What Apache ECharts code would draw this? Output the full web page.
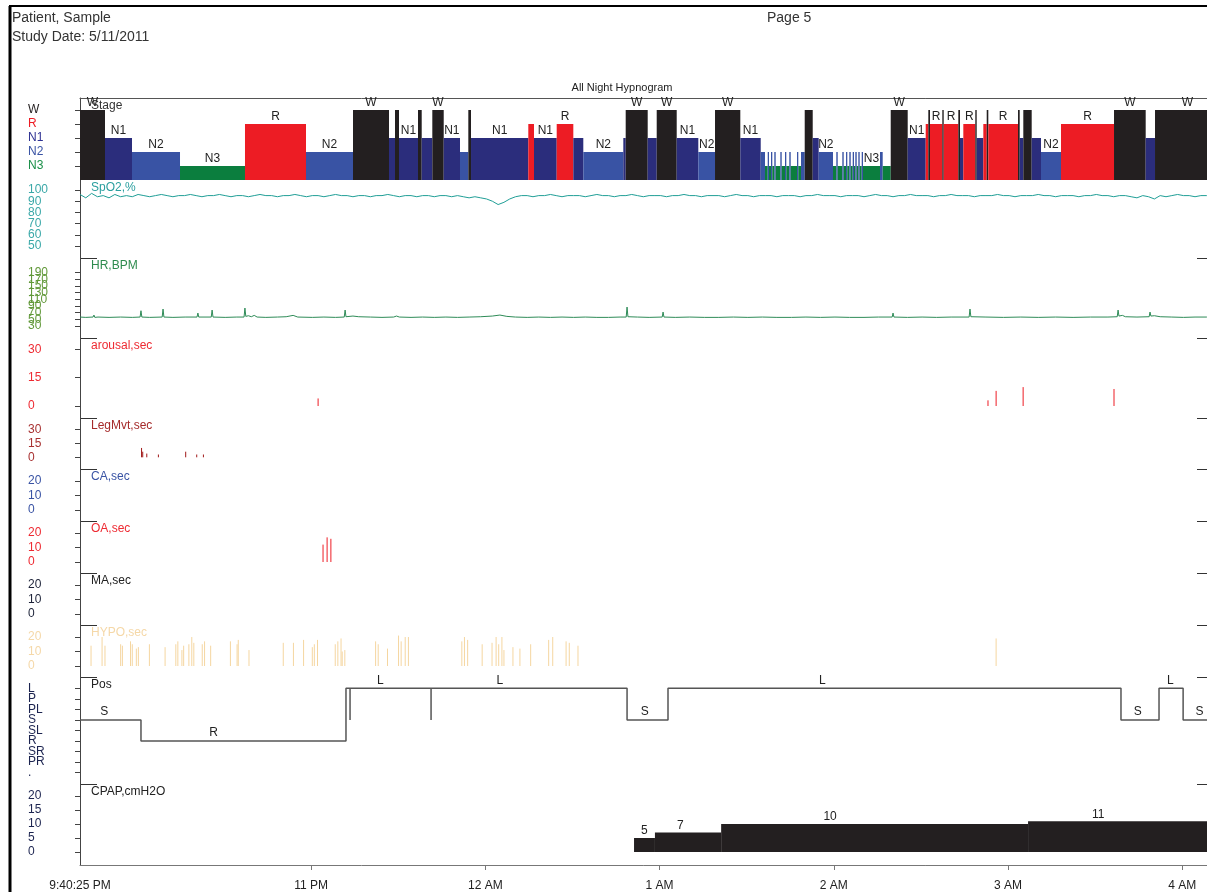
<!DOCTYPE html>
<html>
<head>
<meta charset="utf-8">
<script src="https://cdn.jsdelivr.net/npm/echarts@6/dist/echarts.min.js"></script>
<style>
  html, body { margin: 0; background: #fff; }
  #chart { width: 1207px; height: 892px; }
</style>
</head>
<body>
<div id="chart"></div>
<script>
// times are minutes after lights out (9:40:25 PM)
const START_CLOCK = 21 * 60 + 40 + 25 / 60;
const END_T = 392.6;
const startLabel = '9:40:25 PM';
const xTickHours = [23, 24, 25, 26, 27, 28];
const xTickLabels = ['11 PM', '12 AM', '1 AM', '2 AM', '3 AM', '4 AM'];

// hypnogram: [start, stage, show label]
const hypnogram = [
  [0, 'W', 1], [8.61, 'N1', 1], [17.91, 'N2', 1], [34.44, 'N3', 1], [56.82, 'R', 1], [77.83, 'N2', 1],
  [94.02, 'W', 1], [106.42, 'N1', 0], [108.48, 'W', 0], [109.86, 'N1', 1], [116.40, 'W', 0], [117.68, 'N1', 0],
  [121.33, 'W', 1], [125.26, 'N1', 1], [130.87, 'N2', 0], [133.73, 'W', 0], [134.66, 'N1', 1], [154.39, 'R', 0],
  [156.35, 'N1', 1], [164.17, 'R', 1], [169.89, 'N1', 0], [173.33, 'N2', 1], [187.11, 'N1', 0], [187.93, 'W', 1],
  [195.51, 'N1', 0], [198.61, 'W', 1], [205.50, 'N1', 1], [212.94, 'N2', 1], [218.69, 'W', 1], [227.40, 'N1', 1],
  [234.43, 'N2', 0], [235.91, 'N3', 0], [236.84, 'N2', 0], [237.28, 'N3', 0], [237.97, 'N2', 0], [238.42, 'N3', 0],
  [239.11, 'N2', 0], [239.59, 'N3', 0], [241.18, 'N2', 0], [241.66, 'N3', 0], [242.79, 'N2', 0], [243.24, 'N3', 0],
  [244.27, 'N2', 0], [244.76, 'N3', 0], [246.93, 'N2', 0], [247.37, 'N3', 0], [248.30, 'N2', 0], [249.58, 'W', 0],
  [252.34, 'N1', 0], [254.40, 'N2', 1], [259.33, 'N3', 0], [260.46, 'N2', 0], [260.95, 'N3', 0], [262.53, 'N2', 0],
  [263.01, 'N3', 0], [263.81, 'N2', 0], [264.25, 'N3', 0], [264.94, 'N2', 0], [265.43, 'N3', 0], [266.11, 'N2', 0],
  [266.56, 'N3', 0], [267.01, 'N2', 0], [267.49, 'N3', 0], [268.04, 'N2', 0], [268.52, 'N3', 0], [269.21, 'N2', 0],
  [269.66, 'N3', 1], [275.51, 'N2', 0], [276.44, 'N3', 0], [279.20, 'W', 1], [285.05, 'N1', 1], [291.25, 'R', 0],
  [292.15, 'W', 0], [292.73, 'R', 1], [296.97, 'W', 0], [297.45, 'R', 1], [302.48, 'W', 0], [303.06, 'N1', 0],
  [304.20, 'R', 1], [308.33, 'W', 0], [308.81, 'N1', 0], [311.09, 'R', 0], [312.26, 'W', 0], [312.81, 'R', 1],
  [323.04, 'W', 0], [323.62, 'N1', 0], [324.86, 'W', 0], [327.75, 'N1', 0], [330.96, 'N2', 1], [337.84, 'R', 1],
  [356.10, 'W', 1], [367.01, 'N1', 0], [370.22, 'W', 1]
];
const stageOrder = ['', 'N3', 'N2', 'N1', 'R', 'W'];

// SpO2 every 2 minutes
const spo2Values = [
  96, 93, 97, 94, 95, 93, 96, 94, 95, 94, 96, 95, 94, 95, 96, 95, 94, 95, 95, 96,
  95, 94, 95, 95, 96, 95, 94, 95, 95, 94, 95, 96, 95, 95, 94, 95, 95, 96, 95, 94,
  95, 95, 94, 95, 96, 95, 95, 94, 95, 95, 94, 95, 95, 96, 95, 94, 95, 95, 94, 95,
  95, 94, 95, 95, 94, 95, 94, 93, 94, 93, 92, 90, 87, 89, 92, 94, 95, 95, 94, 95,
  95, 96, 95, 94, 95, 95, 95, 94, 95, 96, 95, 95, 94, 95, 95, 96, 95, 94, 95, 95,
  95, 94, 95, 95, 96, 95, 95, 94, 95, 95, 95, 94, 95, 96, 95, 95, 94, 95, 95, 95,
  94, 95, 95, 95, 94, 95, 95, 96, 95, 95, 95, 94, 95, 95, 95, 94, 95, 96, 95, 95,
  94, 95, 95, 96, 95, 95, 95, 94, 95, 95, 96, 95, 95, 95, 94, 95, 95, 95, 96, 95,
  95, 94, 95, 95, 95, 96, 95, 95, 94, 95, 95, 95, 94, 95, 95, 96, 95, 95, 94, 95,
  95, 94, 93, 95, 94, 92, 95, 94, 95, 96, 95, 95, 94, 95, 95, 95, 95
];

// heart rate [minute, bpm]
const hrPoints = [
  [0, 57], [2, 56], [4.5, 57], [4.8, 63], [5.1, 56], [6.2, 57], [6.5, 62], [6.8, 56], [10, 56], [14, 57],
  [18, 56], [20.7, 57], [21, 76], [21.3, 57], [24, 56], [28.3, 57], [28.6, 81], [28.9, 57], [32, 56],
  [36.2, 57], [36.5, 61], [36.8, 56], [40.3, 57], [40.6, 69], [40.9, 57], [45.2, 57], [45.5, 78], [45.8, 57],
  [50, 56], [54, 57], [56.5, 57], [56.8, 84], [57.1, 59], [58, 61], [59, 58], [60, 62], [61, 57], [64, 56],
  [68, 57], [71, 58], [73.4, 62], [75, 57], [80, 56], [84, 57], [88, 56], [91, 57], [91.3, 78], [91.6, 58],
  [94, 60], [96, 58], [100, 57], [104, 56], [108, 57], [109, 60], [110, 57], [114, 56], [118, 57], [122, 56],
  [126, 57], [130, 56], [134, 57], [138, 58], [142, 60], [144.6, 63], [147, 59], [150, 57], [154, 56],
  [158, 57], [162, 56], [166, 57], [170, 56], [174, 57], [178, 56], [182, 56], [186, 57], [188.1, 57],
  [188.4, 87], [188.7, 58], [192, 57], [196, 56], [200.5, 57], [200.8, 72], [201.1, 57], [205, 56], [210, 57],
  [215, 56], [220, 56], [225, 57], [230, 56], [235, 57], [240, 56], [245, 56], [250, 57], [255, 56], [260, 57],
  [265, 56], [270, 56], [275, 57], [279.7, 57], [280, 69], [280.3, 57], [285, 56], [290, 57], [295, 56],
  [300, 57], [306.2, 57], [306.5, 81], [306.8, 58], [312, 57], [318, 56], [324, 57], [330, 56], [336, 57],
  [342, 56], [348, 57], [354, 57], [357.2, 58], [357.5, 78], [357.8, 60], [359, 62], [360, 58], [364, 57],
  [368.2, 58], [368.5, 72], [368.8, 60], [370, 61], [372, 58], [376, 57], [380, 56], [384, 57], [384.3, 60],
  [384.6, 57], [388, 57], [392.6, 57]
];

// events [minute, seconds]
const arousalEvents = [[82.0, 4], [312.7, 3], [315.5, 8], [324.8, 10], [356.1, 9]];
const legMvtEvents = [[21.2, 10], [21.6, 6], [23.0, 4], [27.0, 3], [36.4, 6], [40.2, 3], [42.5, 3]];
const caEvents = [];
const oaEvents = [[83.7, 12], [85.1, 17], [86.4, 16]];
const maEvents = [];
const hypoEvents = [
  [3.8, 14], [7.6, 20], [8.6, 14], [14.0, 15], [14.6, 14], [17.4, 17], [18.0, 15], [19.4, 12], [20.1, 13],
  [23.9, 15], [29.3, 13], [33.0, 15], [33.7, 17], [35.1, 11], [35.7, 14], [37.5, 15], [38.5, 20], [39.2, 16],
  [42.1, 15], [42.9, 17], [45.0, 14], [51.8, 17], [54.1, 15], [54.5, 18], [58.2, 11], [70.0, 16], [73.5, 16],
  [77.0, 18], [80.0, 13], [80.7, 15], [81.8, 18], [87.9, 15], [88.8, 17], [89.9, 19], [90.3, 10], [91.2, 11],
  [101.8, 17], [102.7, 15], [105.9, 12], [109.7, 21], [110.6, 17], [112.0, 20], [113.1, 20], [131.5, 17],
  [132.4, 20], [133.5, 18], [138.5, 15], [141.9, 16], [143.3, 20], [144.2, 15], [145.3, 20], [146.0, 11],
  [149.1, 13], [151.5, 12], [155.2, 15], [161.4, 18], [162.8, 20], [167.4, 17], [168.5, 16], [171.5, 14],
  [315.5, 19]
];

// body position [start, end, position]
const posLevels = ['.', 'PR', 'SR', 'R', 'SL', 'S', 'PL', 'P', 'L'];
const posSegments = [
  [0, 21.0, 'S'], [21.0, 91.6, 'R'], [91.6, 93.0, 'L'], [93.0, 93.0, 'S'], [93.0, 120.9, 'L'],
  [120.9, 120.9, 'S'], [120.9, 188.4, 'L'], [188.4, 202.5, 'S'], [202.5, 358.5, 'L'],
  [358.5, 371.6, 'S'], [371.6, 379.9, 'L'], [379.9, 392.6, 'S']
];

// CPAP pressure [start, cmH2O]
const cpapSteps = [[190.8, 5], [198.0, 7], [220.8, 10], [326.5, 11]];

const FONT = '"Liberation Sans", Arial, sans-serif';
const AXIS = '#444';

const panels = [
  { title: 'Stage', tc: '#333', lc: '#231f20', top: 98, bottom: 180, first: 12, step: 14, ticks: [1, 2, 3, 4, 5] },
  { title: 'SpO2,%', tc: '#2a9f9f', lc: '#3aa8a8', top: 180, bottom: 258, first: 10, step: 11.2, ticks: [50, 60, 70, 80, 90, 100] },
  { title: 'HR,BPM', tc: '#2e8b4e', lc: '#62993a', top: 258, bottom: 338, first: 14.7, step: 6.67, ticks: [30, 50, 70, 90, 110, 130, 150, 170, 190] },
  { title: 'arousal,sec', tc: '#ee2a32', lc: '#ee2a32', top: 338, bottom: 418, first: 11.3, step: 28.35, ticks: [0, 15, 30] },
  { title: 'LegMvt,sec', tc: '#a52a2a', lc: '#a83232', top: 418, bottom: 469, first: 11.3, step: 14, ticks: [0, 15, 30] },
  { title: 'CA,sec', tc: '#3953a4', lc: '#3953a4', top: 469, bottom: 521, first: 12, step: 14.5, ticks: [0, 10, 20] },
  { title: 'OA,sec', tc: '#ee2a32', lc: '#ee2a32', top: 521, bottom: 573, first: 12, step: 14.5, ticks: [0, 10, 20] },
  { title: 'MA,sec', tc: '#222', lc: '#1c2238', top: 573, bottom: 625, first: 12, step: 14.5, ticks: [0, 10, 20] },
  { title: 'HYPO,sec', tc: '#f5d8a8', lc: '#f5d8a8', top: 625, bottom: 677, first: 12, step: 14.5, ticks: [0, 10, 20] },
  { title: 'Pos', tc: '#222', lc: '#1c2450', top: 677, bottom: 784, first: 11.3, step: 10.55, ticks: [0, 1, 2, 3, 4, 5, 6, 7, 8] },
  { title: 'CPAP,cmH2O', tc: '#222', lc: '#1c2450', top: 784, bottom: 865, first: 12, step: 14, ticks: [0, 5, 10, 15, 20] }
];
panels.forEach(p => {
  const unit = p.step / (p.ticks[1] - p.ticks[0]);
  const lo = p.ticks[0], hi = p.ticks[p.ticks.length - 1];
  const lowTickPx = p.top + p.first + (p.ticks.length - 1) * p.step;
  p.max = hi + p.first / unit;
  p.min = lo - (p.bottom - lowTickPx) / unit;
});

const stageColors = { W: '#231f20', R: '#ed1c24', N1: '#2b2d7c', N2: '#3953a4', N3: '#0b7e3e' };
const stageLabelColors = { W: '#231f20', R: '#ed1c24', N1: '#2e3192', N2: '#3953a4', N3: '#1a8f48' };

const xTickMins = xTickHours.map(h => h * 60 - START_CLOCK);
function xLabel(v) {
  if (Math.abs(v) < 0.01) return startLabel;
  const i = xTickMins.findIndex(m => Math.abs(m - v) < 0.01);
  return i >= 0 ? xTickLabels[i] : '';
}

const hypnoData = hypnogram.map((h, i) => [
  h[0], i + 1 < hypnogram.length ? hypnogram[i + 1][0] : END_T, stageOrder.indexOf(h[1]), h[2]
]);
const posData = [];
posSegments.forEach(s => {
  const lv = posLevels.indexOf(s[2]);
  posData.push([s[0], lv], [s[1], lv]);
});
const posLabelData = posSegments.filter(s => s[1] - s[0] > 5).map(s => [s[0], s[1], posLevels.indexOf(s[2])]);
const cpapData = cpapSteps.map((c, i) => [c[0], i + 1 < cpapSteps.length ? cpapSteps[i + 1][0] : END_T, c[1]]);

// each event is a vertical stroke from 0 up to its duration
function eventSeries(name, idx, data, color) {
  const pts = [];
  data.forEach(d => { pts.push([d[0], 0], [d[0], d[1]], [d[0], '-']); });
  return {
    id: name, name: name, type: 'line', xAxisIndex: idx, yAxisIndex: idx, data: pts,
    showSymbol: false, connectNulls: false, silent: true, z: 5,
    itemStyle: { color: color },
    lineStyle: { color: color, width: 1 },
    emphasis: { disabled: true }
  };
}

// tick labels drawn through each panel's own y scale
function tickLabelSeries(p, i) {
  return {
    id: 'ticks' + i, type: 'custom', xAxisIndex: i, yAxisIndex: i, silent: true, clip: false,
    data: p.ticks.map(v => [0, v]),
    encode: { x: 0, y: 1 },
    renderItem: function (params, api) {
      const v = api.value(1);
      const pt = api.coord([0, v]);
      let text = String(v), fill = p.lc;
      if (i === 0) { text = stageOrder[v]; fill = stageLabelColors[text]; }
      if (i === 9) text = posLevels[v];
      return { type: 'text', style: { text: text, x: pt[0] - 52, y: pt[1], align: 'left', verticalAlign: 'middle',
        fill: fill, font: '12px ' + FONT } };
    }
  };
}

function textLabel(text, x, y, align) {
  return {
    type: 'text',
    style: { text: text, x: x, y: y, align: align, verticalAlign: 'bottom', fill: '#222', font: '12px ' + FONT }
  };
}

const graphics = [
  { type: 'line', shape: { x1: 10, y1: 6, x2: 10, y2: 892 }, style: { stroke: '#000', lineWidth: 3 } },
  { type: 'line', shape: { x1: 9, y1: 6, x2: 1207, y2: 6 }, style: { stroke: '#000', lineWidth: 2 } },
  { type: 'text', x: 12, y: 18, style: { text: 'Patient, Sample', font: '14px ' + FONT, fill: '#333', verticalAlign: 'middle' } },
  { type: 'text', x: 12, y: 37, style: { text: 'Study Date: 5/11/2011', font: '14px ' + FONT, fill: '#333', verticalAlign: 'middle' } },
  { type: 'text', x: 767, y: 18, style: { text: 'Page 5', font: '14px ' + FONT, fill: '#333', verticalAlign: 'middle' } },
  { type: 'text', x: 622, y: 88, style: { text: 'All Night Hypnogram', font: '11px ' + FONT, fill: '#222', align: 'center', verticalAlign: 'middle' } }
];
panels.forEach((p, i) => {
  graphics.push({ type: 'text', x: 91, y: p.top + 7.5, z: 10,
    style: { text: p.title, font: '12px ' + FONT, fill: p.tc, verticalAlign: 'middle' } });
  if (i >= 2) {
    graphics.push({ type: 'line', shape: { x1: 80, y1: p.top + 0.5, x2: 97, y2: p.top + 0.5 }, style: { stroke: '#333', lineWidth: 1 } });
    graphics.push({ type: 'line', shape: { x1: 1197, y1: p.top + 0.5, x2: 1207, y2: p.top + 0.5 }, style: { stroke: '#333', lineWidth: 1 } });
  }
});

const option = {
  animation: false,
  backgroundColor: '#fff',
  textStyle: { fontFamily: FONT },
  graphic: { elements: graphics },
  grid: panels.map(p => ({ left: 80, width: 1140, top: p.top, height: p.bottom - p.top, outerBoundsMode: 'none', containLabel: false })),
  xAxis: panels.map((p, i) => {
    const ax = { gridIndex: i, type: 'value', min: 0, max: END_T, splitLine: { show: false } };
    if (i === 0) {
      return Object.assign(ax, { position: 'top', axisLine: { show: true, onZero: false, lineStyle: { color: '#555' } },
        axisTick: { show: false }, axisLabel: { show: false } });
    }
    if (i === panels.length - 1) {
      return Object.assign(ax, { position: 'bottom',
        axisLine: { show: true, onZero: false, lineStyle: { color: '#777' } },
        axisTick: { show: true, customValues: xTickMins, length: 5, lineStyle: { color: '#777' } },
        axisLabel: { customValues: [0].concat(xTickMins), formatter: xLabel, margin: 15, color: '#222', fontSize: 12, fontFamily: FONT,
          showMinLabel: true, showMaxLabel: true } });
    }
    return Object.assign(ax, { show: false });
  }),
  yAxis: panels.map((p, i) => ({
    gridIndex: i, type: 'value', min: p.min, max: p.max, splitLine: { show: false },
    axisLine: { show: true, onZero: false, lineStyle: { color: AXIS, width: 1 } },
    axisTick: { show: true, customValues: p.ticks, length: 5, lineStyle: { color: AXIS } },
    axisLabel: { show: false }
  })),
  series: [
    {
      id: 'stage', type: 'custom', xAxisIndex: 0, yAxisIndex: 0, data: hypnoData,
      encode: { x: [0, 1], y: 2 },
      renderItem: function (params, api) {
        const s = api.value(0), e = api.value(1), lv = api.value(2);
        const name = stageOrder[lv];
        const p0 = api.coord([s, lv]);
        const p1 = api.coord([e, 0]);
        const kids = [{ type: 'rect', shape: { x: p0[0], y: p0[1], width: p1[0] - p0[0], height: p1[1] - p0[1] },
          style: { fill: stageColors[name] } }];
        if (api.value(3)) kids.push(textLabel(name, (p0[0] + p1[0]) / 2, p0[1] - 1, 'center'));
        return { type: 'group', children: kids };
      }
    },
    {
      id: 'spo2', type: 'line', xAxisIndex: 1, yAxisIndex: 1, showSymbol: false,
      data: spo2Values.map((v, i) => [i * 2, v]),
      lineStyle: { color: '#1f9e96', width: 1 }
    },
    {
      id: 'hr', type: 'line', xAxisIndex: 2, yAxisIndex: 2, showSymbol: false, data: hrPoints,
      lineStyle: { color: '#2e8b57', width: 1 }
    },
    eventSeries('arousal', 3, arousalEvents, '#ed1c24'),
    eventSeries('legmvt', 4, legMvtEvents, '#a01818'),
    eventSeries('ca', 5, caEvents, '#3953a4'),
    eventSeries('oa', 6, oaEvents, '#ee1d25'),
    eventSeries('ma', 7, maEvents, '#111'),
    eventSeries('hypo', 8, hypoEvents, '#f5d6a0'),
    {
      id: 'pos', type: 'line', xAxisIndex: 9, yAxisIndex: 9, showSymbol: false, data: posData,
      lineStyle: { color: '#555', width: 1.5 }
    },
    {
      id: 'posLabels', type: 'custom', xAxisIndex: 9, yAxisIndex: 9, data: posLabelData,
      encode: { x: [0, 1], y: 2 },
      renderItem: function (params, api) {
        const a = api.coord([api.value(0), api.value(2)]);
        const b = api.coord([api.value(1), api.value(2)]);
        return textLabel(posLevels[api.value(2)], a[0] + (b[0] - a[0]) / 3, a[1] - 2, 'left');
      }
    },
    {
      id: 'cpap', type: 'custom', xAxisIndex: 10, yAxisIndex: 10, data: cpapData,
      encode: { x: [0, 1], y: 2 },
      renderItem: function (params, api) {
        const p0 = api.coord([api.value(0), api.value(2)]);
        const p1 = api.coord([api.value(1), 0]);
        return { type: 'group', children: [
          { type: 'rect', shape: { x: p0[0], y: p0[1], width: p1[0] - p0[0], height: p1[1] - p0[1] }, style: { fill: '#231f20' } },
          textLabel(String(api.value(2)), p0[0] + (p1[0] - p0[0]) / 3, p0[1] - 1, 'left')
        ] };
      }
    }
  ].concat(panels.map(tickLabelSeries))
};

const chart = echarts.init(document.getElementById('chart'));
chart.setOption(option);
</script>
</body>
</html>
